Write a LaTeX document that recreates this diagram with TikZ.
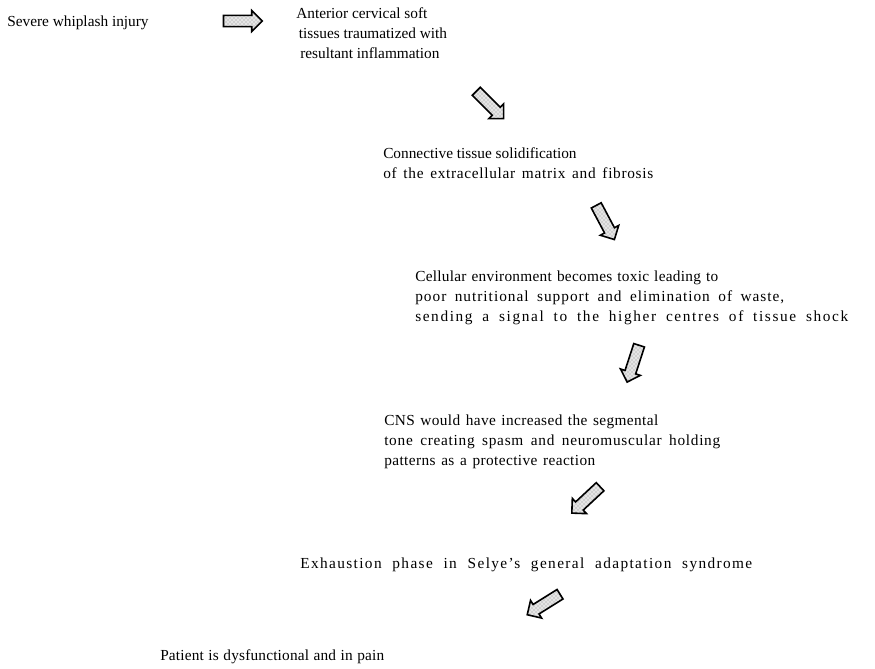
\documentclass[tikz,border=0pt]{standalone}
\usepackage{fontspec}
\setmainfont{Liberation Serif}
\usepackage{tikz}
\usetikzlibrary{shapes.arrows, patterns, positioning}

% line spread to a width given in px, partly by letter spacing
\newcommand{\fitline}[3]{\makebox[#1\dimexpr0.75pt\relax][s]{\addfontfeature{LetterSpace=#2}#3}}

\begin{document}
\begin{tikzpicture}[
    x=0.75pt, y=-0.75pt,
    txt/.style={anchor=north west, inner sep=0pt, align=left, font=\fontsize{11.5}{15}\selectfont},
    blockarr/.style={single arrow, draw, line width=1.2pt, preaction={fill=gray!20},
        pattern=crosshatch dots, pattern color=gray!90, minimum height=29pt,
        inner xsep=0pt, inner ysep=3.6pt, single arrow head extend=3.6pt}
]
\useasboundingbox (0,0) rectangle (875,668);

% Steps
\node[txt] (injury) at (7,15.5) {Severe whiplash injury};
\node[txt] (tissue) at (296,7.5) {Anterior cervical soft\\\hspace{2pt}tissues traumatized with\\\hspace{3pt}resultant inflammation};
\node[txt] (fibro) at (383,147.5) {Connective tissue solidification\\\fitline{270}{4.5}{of the extracellular matrix and fibrosis}};
\node[txt] (toxic) at (415,270.5) {\fitline{303}{1.8}{Cellular environment becomes toxic leading to}\\\fitline{369}{6.5}{poor nutritional support and elimination of waste,}\\\fitline{433}{10.5}{sending a signal to the higher centres of tissue shock}};
\node[txt] (cns) at (384,414.5) {\fitline{274}{2.5}{CNS would have increased the segmental}\\\fitline{336}{4.7}{tone creating spasm and neuromuscular holding}\\\fitline{211}{2.6}{patterns as a protective reaction}};
\node[txt] (selye) at (300,557.5) {\fitline{452}{9}{Exhaustion phase in Selye's general adaptation syndrome}};
\node[txt] (pain) at (160,649.5) {\fitline{224}{1.2}{Patient is dysfunctional and in pain}};

% Block arrows
\node[blockarr] (a1) at (240,21) {};
\node[blockarr, rotate=-45] (a2) at (488,103) {};
\node[blockarr, rotate=-62] (a3) at (604,220) {};
\node[blockarr, rotate=-108] (a4) at (634,361) {};
\node[blockarr, rotate=-137] (a5) at (588,498) {};
\node[blockarr, rotate=-148] (a6) at (546,603) {};

\end{tikzpicture}
\end{document}
